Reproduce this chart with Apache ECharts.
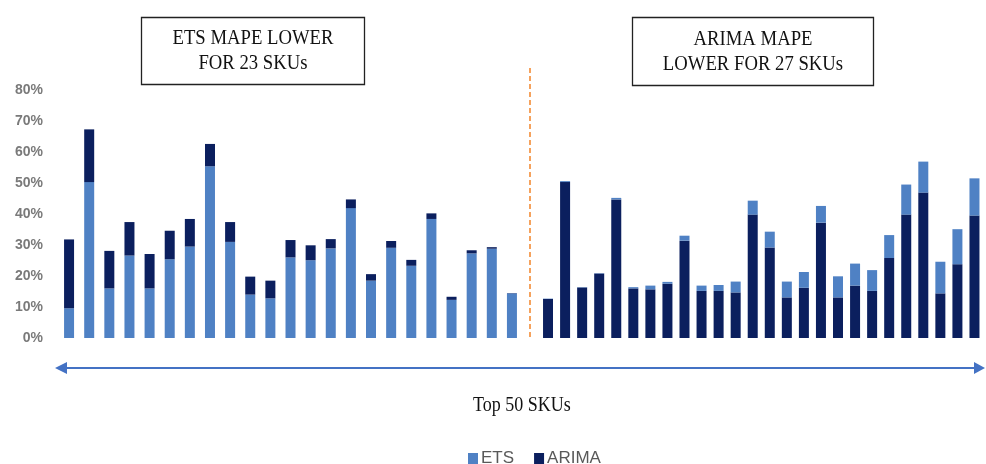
<!DOCTYPE html>
<html>
<head>
<meta charset="utf-8">
<script src="https://cdn.jsdelivr.net/npm/echarts@6/dist/echarts.min.js"></script>
<style>
  html, body { margin: 0; padding: 0; background: #ffffff; }
  #chart { width: 986px; height: 464px; }
</style>
</head>
<body>
<div id="chart"></div>
<script>
// MAPE (%) per SKU. Left group: SKUs where ETS is lower; right group: SKUs where ARIMA is lower.
const etsLeft   = [9.6, 50.3, 16.0, 26.6, 16.0, 25.4, 29.5, 55.4, 31.0, 14.0, 12.8, 26.0, 25.1, 28.9, 41.9, 18.5, 29.1, 23.3, 38.4, 12.3, 27.3, 28.8, 14.4];
const arimaLeft = [31.8, 67.3, 28.1, 37.4, 27.1, 34.6, 38.4, 62.6, 37.4, 19.8, 18.5, 31.6, 29.9, 31.9, 44.7, 20.6, 31.3, 25.2, 40.2, 13.3, 28.3, 29.3, 14.5];

const arimaRight = [12.6, 50.3, 16.3, 20.8, 44.7, 16.0, 15.7, 17.5, 31.4, 15.2, 15.2, 14.7, 39.8, 29.2, 13.1, 16.2, 37.2, 13.1, 16.9, 15.2, 25.8, 39.8, 46.9, 14.4, 23.8, 39.5];
const etsRight   = [12.7, 50.6, 16.4, 20.9, 45.2, 16.4, 16.9, 18.1, 33.0, 16.9, 17.1, 18.2, 44.3, 34.3, 18.2, 21.3, 42.6, 19.9, 24.0, 21.9, 33.2, 49.5, 56.9, 24.6, 35.1, 51.5];

const yTicks = [0, 10, 20, 30, 40, 50, 60, 70, 80];

const skuLeft  = etsLeft.map((_, i) => 'SKU ' + (i + 1));
const skuRight = arimaRight.map((_, i) => 'SKU ' + (etsLeft.length + i + 1));

// Stacked pieces: the lower MAPE at the bottom, the gap to the higher one on top
const diffLeft  = arimaLeft.map((v, i) => +(v - etsLeft[i]).toFixed(2));
const diffRight = etsRight.map((v, i) => +(v - arimaRight[i]).toFixed(2));

const ETS_COLOR = '#4f81c4';
const ARIMA_COLOR = '#0b1f5e';
const serif = '"Liberation Serif", "Times New Roman", serif';

const chart = echarts.init(document.getElementById('chart'), null, { renderer: 'canvas' });

const yBase = {
  type: 'value',
  min: yTicks[0],
  max: yTicks[yTicks.length - 1],
  interval: 10,
  splitLine: { show: false },
  axisLine: { show: false },
  axisTick: { show: false }
};

const xBase = {
  type: 'category',
  axisLine: { show: false },
  axisTick: { show: false },
  axisLabel: { show: false }
};

function boxText(lines, cx, y0) {
  return lines.map((t, i) => ({
    type: 'text',
    x: cx, y: y0 + i * 25,
    scaleX: 0.85,
    style: {
      text: t, fill: '#111111',
      font: '22px ' + serif,
      textAlign: 'center', textVerticalAlign: 'middle'
    }
  }));
}

chart.setOption({
  animation: false,
  backgroundColor: '#ffffff',
  grid: [
    { left: 59, width: 463, top: 90, bottom: 126 },
    { left: 539.5, width: 443.5, top: 90, bottom: 126 }
  ],
  xAxis: [
    Object.assign({ gridIndex: 0, data: skuLeft }, xBase),
    Object.assign({ gridIndex: 1, data: skuRight }, xBase)
  ],
  yAxis: [
    Object.assign({ gridIndex: 0, axisLabel: {
      formatter: '{value}%', color: '#7a7a7a', fontSize: 14, fontWeight: 'bold',
      fontFamily: '"Liberation Sans", Arial, sans-serif', margin: 16
    } }, yBase),
    Object.assign({ gridIndex: 1, axisLabel: { show: false } }, yBase)
  ],
  legend: {
    data: ['ETS', 'ARIMA'],
    left: 463, top: 445,
    icon: 'rect', itemWidth: 10, itemHeight: 11, itemGap: 20,
    textStyle: { color: '#595959', fontSize: 17, fontFamily: '"Liberation Sans", Arial, sans-serif', padding: [0, 0, 0, -2] }
  },
  color: [ETS_COLOR, ARIMA_COLOR],
  series: [
    { name: 'ETS', type: 'bar', xAxisIndex: 0, yAxisIndex: 0, stack: 'left', barWidth: 10,
      itemStyle: { color: ETS_COLOR }, data: etsLeft },
    { name: 'ARIMA', type: 'bar', xAxisIndex: 0, yAxisIndex: 0, stack: 'left', barWidth: 10,
      itemStyle: { color: ARIMA_COLOR }, data: diffLeft },
    { name: 'ARIMA', type: 'bar', xAxisIndex: 1, yAxisIndex: 1, stack: 'right', barWidth: 10,
      itemStyle: { color: ARIMA_COLOR }, data: arimaRight },
    { name: 'ETS', type: 'bar', xAxisIndex: 1, yAxisIndex: 1, stack: 'right', barWidth: 10,
      itemStyle: { color: ETS_COLOR }, data: diffRight }
  ],
  graphic: [
    // divider between the two groups
    { type: 'line', shape: { x1: 530, y1: 68, x2: 530, y2: 340 },
      style: { stroke: '#f5a25d', lineWidth: 2, lineDash: [5, 3] } },
    // annotation boxes
    { type: 'rect', shape: { x: 141.5, y: 17.5, width: 223, height: 67 },
      style: { fill: '#ffffff', stroke: '#222222', lineWidth: 1.3 } },
    { type: 'rect', shape: { x: 632.5, y: 17.5, width: 241, height: 68 },
      style: { fill: '#ffffff', stroke: '#222222', lineWidth: 1.3 } }
  ]
  .concat(boxText(['ETS MAPE LOWER', 'FOR 23 SKUs'], 253, 38))
  .concat(boxText(['ARIMA MAPE', 'LOWER FOR 27 SKUs'], 753, 39))
  .concat([
    // double-headed span arrow
    { type: 'line', shape: { x1: 64, y1: 368, x2: 977, y2: 368 },
      style: { stroke: '#4472c4', lineWidth: 2 } },
    { type: 'polygon', shape: { points: [[55, 368], [67, 362], [67, 374]] },
      style: { fill: '#4472c4' } },
    { type: 'polygon', shape: { points: [[985, 368], [974, 362], [974, 374]] },
      style: { fill: '#4472c4' } },
    { type: 'text', x: 522, y: 406, scaleX: 0.9,
      style: { text: 'Top 50 SKUs', fill: '#111111', font: '20px ' + serif,
        textAlign: 'center', textVerticalAlign: 'middle' } }
  ])
});
</script>
</body>
</html>
